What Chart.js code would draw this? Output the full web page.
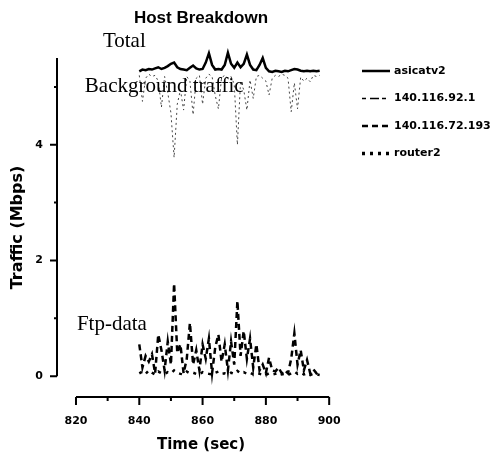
<!DOCTYPE html>
<html>
<head>
<meta charset="utf-8">
<script src="https://cdn.jsdelivr.net/npm/chart.js@4.4.1/dist/chart.umd.min.js"></script>
<style>
  html, body { margin: 0; padding: 0; background: #fff; }
  #wrap { width: 502px; height: 460px; }
</style>
</head>
<body>
<div id="wrap"><canvas id="chart"></canvas></div>
<script>
// time samples (sec), one per second
const times = [840,841,842,843,844,845,846,847,848,849,850,851,852,853,854,855,856,857,858,859,
               860,861,862,863,864,865,866,867,868,869,870,871,872,873,874,875,876,877,878,879,
               880,881,882,883,884,885,886,887,888,889,890,891,892,893,894,895,896,897];

// asicatv2 -- total traffic (Mbps)
const asicatv2 = [5.27,5.30,5.29,5.31,5.30,5.32,5.34,5.31,5.33,5.36,5.40,5.42,5.34,5.31,5.30,5.29,5.33,5.37,5.32,5.30,
                  5.31,5.42,5.58,5.38,5.30,5.31,5.30,5.38,5.59,5.40,5.33,5.42,5.34,5.40,5.56,5.38,5.30,5.29,5.38,5.50,
                  5.33,5.27,5.26,5.28,5.27,5.26,5.28,5.27,5.29,5.31,5.30,5.28,5.27,5.28,5.27,5.28,5.27,5.28];

// 140.116.92.1 -- background traffic
const host92 = [5.20,4.75,5.15,5.22,5.18,5.20,5.10,4.65,5.18,4.90,4.55,3.78,4.70,4.95,4.60,5.18,5.10,4.52,5.15,5.20,
                4.70,5.15,5.22,5.18,4.85,4.62,5.16,5.20,5.15,5.18,5.05,4.00,5.10,4.95,4.60,5.12,4.80,5.18,5.20,5.15,
                5.10,4.86,5.15,5.20,5.18,5.22,5.20,5.15,4.57,5.07,4.62,5.17,5.10,5.15,5.09,5.20,5.18,5.20];

// 140.116.72.193 -- ftp-data
const host72 = [0.55,0.15,0.35,0.25,0.38,0.05,0.72,0.45,0.10,0.60,0.20,1.60,0.40,0.55,0.05,0.30,0.92,0.20,0.45,0.10,
                0.55,0.30,0.65,0.05,0.50,0.72,0.25,0.55,0.10,0.60,0.20,1.30,0.35,0.78,0.30,0.65,0.15,0.55,0.10,0.20,
                0.05,0.32,0.10,0.08,0.15,0.05,0.10,0.05,0.30,0.74,0.20,0.45,0.10,0.28,0.05,0.12,0.05,0.08];

// router2
const router2 = [0.05,0.08,0.04,0.10,0.06,0.03,0.08,0.05,0.04,0.07,0.05,0.10,0.06,0.04,0.03,0.08,0.05,0.06,0.04,0.03,
                 0.07,0.05,0.04,0.03,0.06,0.08,0.04,0.05,0.03,0.06,0.04,0.09,0.05,0.07,0.04,0.06,0.03,0.05,0.04,0.03,
                 0.02,0.05,0.03,0.04,0.06,0.03,0.04,0.02,0.05,0.08,0.04,0.06,0.03,0.05,0.02,0.04,0.03,0.02];

const xTicks = [820,830,840,850,860,870,880,890,900];
const yTicks = [0,1,2,3,4,5];
const yTop = 5.5;

const notes = [
  { text: 'Total',              x: 828.5, y: 5.69 },
  { text: 'Background traffic', x: 822.8, y: 4.91 },
  { text: 'Ftp-data',           x: 820.3, y: 0.80 },
];

const pts = vals => times.map((t, i) => ({ x: t, y: vals[i] }));

const axisPlugin = {
  id: 'plainAxes',
  afterDraw(chart) {
    const { ctx, chartArea, scales: { x, y } } = chart;
    ctx.save();
    ctx.strokeStyle = '#000';
    ctx.lineWidth = 2;
    ctx.beginPath();
    const by = chartArea.bottom;
    ctx.moveTo(x.getPixelForValue(xTicks[0]), by);
    ctx.lineTo(x.getPixelForValue(xTicks[xTicks.length - 1]), by);
    xTicks.forEach(v => {
      const px = x.getPixelForValue(v);
      ctx.moveTo(px, by);
      ctx.lineTo(px, by + (v % 20 === 0 ? 8 : 4));
    });
    const lx = chartArea.left;
    ctx.moveTo(lx, y.getPixelForValue(yTicks[0]));
    ctx.lineTo(lx, y.getPixelForValue(yTop));
    yTicks.forEach(v => {
      const py = y.getPixelForValue(v);
      ctx.moveTo(lx, py);
      ctx.lineTo(lx - (v % 2 === 0 ? 7 : 3), py);
    });
    ctx.stroke();

    // annotations
    ctx.fillStyle = '#000';
    ctx.font = '21px "Liberation Serif", "Times New Roman", serif';
    ctx.textBaseline = 'alphabetic';
    ctx.textAlign = 'left';
    notes.forEach(n => ctx.fillText(n.text, x.getPixelForValue(n.x), y.getPixelForValue(n.y)));

    // legend
    ctx.font = 'bold 11px "DejaVu Sans", sans-serif';
    ctx.textBaseline = 'middle';
    chart.data.datasets.forEach((ds, i) => {
      const ly = 71 + i * 27.5;
      ctx.beginPath();
      ctx.lineWidth = ds.legendWidth || ds.borderWidth;
      ctx.setLineDash(ds.legendDash || ds.borderDash || []);
      ctx.strokeStyle = '#000';
      ctx.moveTo(362, ly);
      ctx.lineTo(390, ly);
      ctx.stroke();
      ctx.setLineDash([]);
      ctx.fillText(ds.label, 394, ly);
    });
    ctx.restore();
  }
};

new Chart(document.getElementById('chart'), {
  type: 'line',
  data: {
    datasets: [
      { label: 'asicatv2', data: pts(asicatv2), borderColor: '#000', borderWidth: 2.5, pointRadius: 0, tension: 0, clip: false },
      { label: '140.116.92.1', data: pts(host92), borderColor: '#444', borderWidth: 1, borderDash: [2, 3],
        legendDash: [4, 4, 9, 3], legendWidth: 1.5, pointRadius: 0, tension: 0, clip: false },
      { label: '140.116.72.193', data: pts(host72), borderColor: '#000', borderWidth: 2.5, borderDash: [6, 4], pointRadius: 0, tension: 0, clip: false },
      { label: 'router2', data: pts(router2), borderColor: '#000', borderWidth: 2.5, borderDash: [3, 5],
        legendWidth: 3.5, pointRadius: 0, tension: 0, clip: false },
    ]
  },
  options: {
    responsive: true,
    maintainAspectRatio: false,
    animation: false,
    layout: { padding: { left: 0, right: 157, top: 0, bottom: 0 } },
    plugins: {
      legend: { display: false },
      tooltip: { enabled: false },
      title: {
        display: true,
        text: 'Host Breakdown',
        fullSize: false,
        color: '#000',
        font: { family: '"Liberation Sans", Arial, sans-serif', size: 17, weight: 'bold' },
        padding: { top: 8, bottom: 29.6 }
      }
    },
    scales: {
      x: {
        type: 'linear',
        min: 814, max: 905,
        grid: { display: false, drawTicks: false },
        border: { display: false },
        afterBuildTicks: s => { s.ticks = xTicks.map(v => ({ value: v })); },
        afterFit: s => { s.height = 63; },
        ticks: {
          color: '#000',
          padding: 18,
          autoSkip: false,
          maxRotation: 0,
          font: { family: '"DejaVu Sans", sans-serif', size: 11, weight: 'bold' },
          callback: v => (v % 20 === 0 ? String(v) : '')
        },
        title: {
          display: true,
          text: 'Time (sec)',
          color: '#000',
          font: { family: '"DejaVu Sans", sans-serif', size: 15, weight: 'bold' },
          padding: { top: 0, bottom: 6 }
        }
      },
      y: {
        type: 'linear',
        min: -0.36, max: yTop,
        grid: { display: false, drawTicks: false },
        border: { display: false },
        afterBuildTicks: s => { s.ticks = yTicks.map(v => ({ value: v })); },
        afterFit: s => { s.width = 57; },
        ticks: {
          color: '#000',
          padding: 14,
          font: { family: '"DejaVu Sans", sans-serif', size: 11, weight: 'bold' },
          callback: v => (v % 2 === 0 ? String(v) : '')
        },
        title: {
          display: true,
          text: 'Traffic (Mbps)',
          color: '#000',
          font: { family: '"DejaVu Sans", sans-serif', size: 16, weight: 'bold' },
          padding: { top: 8, bottom: 0 }
        }
      }
    }
  },
  plugins: [axisPlugin]
});
</script>
</body>
</html>
